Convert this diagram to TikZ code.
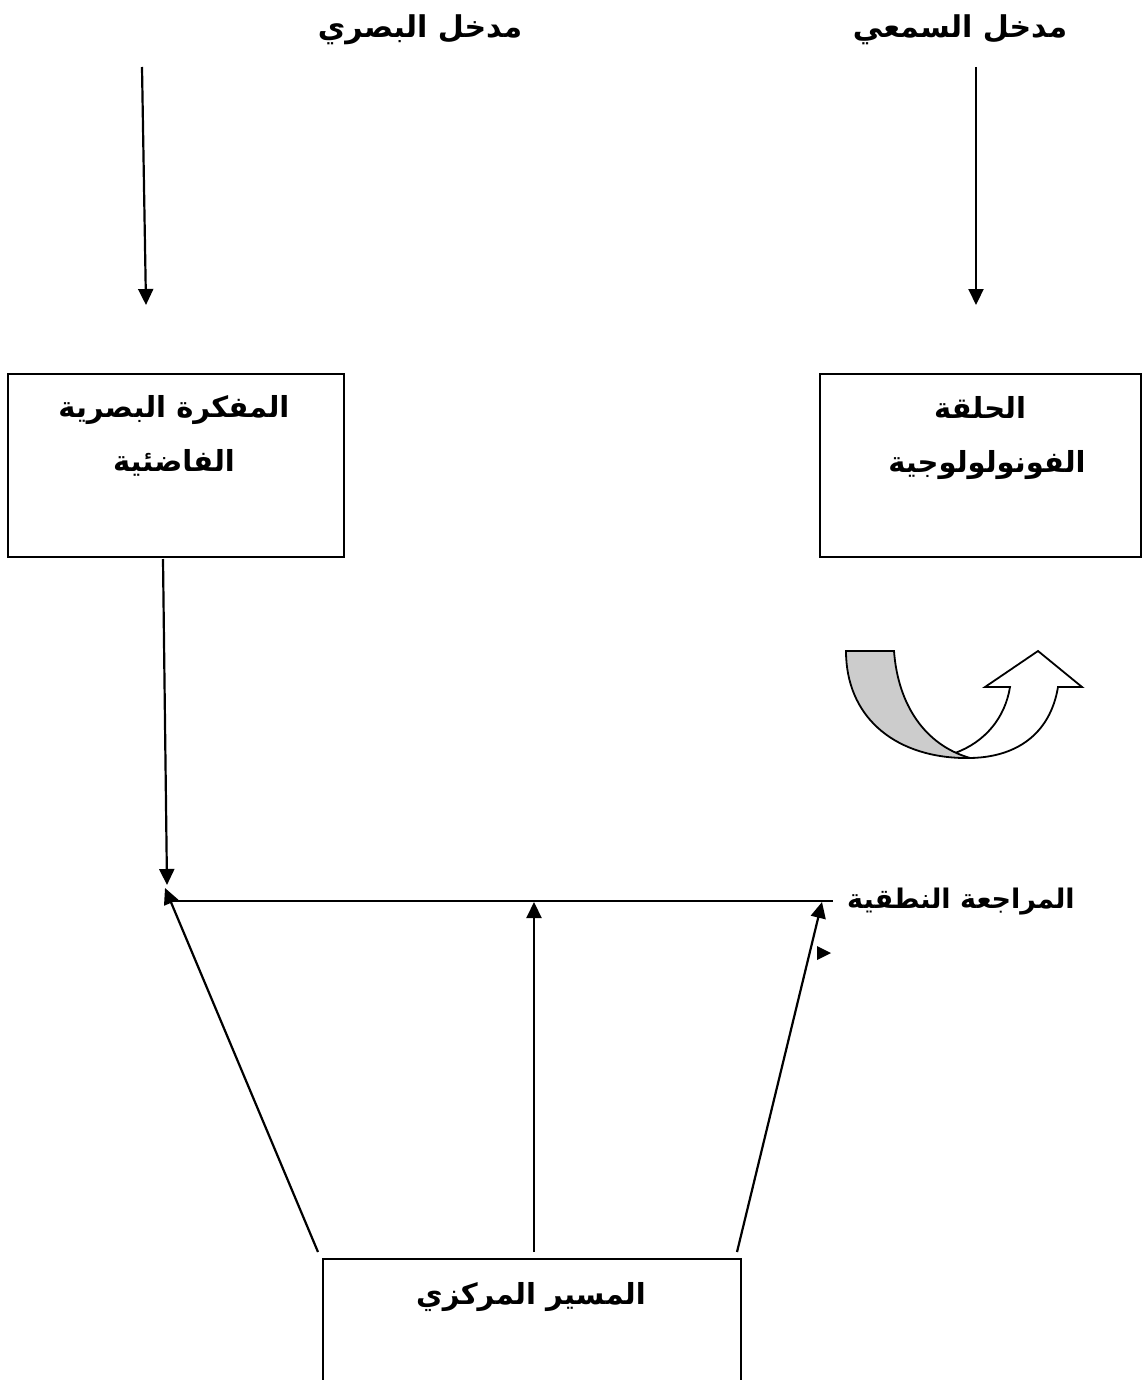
\documentclass[tikz,border=0pt]{standalone}
\usepackage{fontspec}
\usetikzlibrary{arrows.meta}
\TeXXeTstate=1
\newfontfamily\arabicfont[Script=Arabic]{DejaVu Sans}
\begin{document}
\begin{tikzpicture}[x=0.5pt,y=-0.5pt,
  lbl/.style={font=\arabicfont\bfseries\fontsize{15}{19}\selectfont, inner sep=0pt},
  boxlbl/.style={font=\arabicfont\bfseries\fontsize{14.5}{18}\selectfont, inner sep=0pt},
  boxed/.style={draw, line width=1.1pt, inner sep=0pt},
  ln/.style={line width=1.1pt},
  arr/.style={line width=1.1pt, -{Triangle[length=8pt,width=7.5pt]}}]
\useasboundingbox (0,0) rectangle (1146,1380);
\fill[white] (0,0) rectangle (1146,1380);
% top labels
\node[lbl] (vin) at (420,30) {\beginR مدخل البصري\endR};
\node[lbl] (ain) at (960,30) {\beginR مدخل السمعي\endR};
% boxes
\node[boxed, minimum width=168pt, minimum height=91.5pt] (vs) at (176,465.5) {};
\node[boxlbl] (vs1) at (174,410) {\beginR المفكرة البصرية\endR};
\node[boxlbl] (vs2) at (174,463) {\beginR الفاضئية\endR};
\node[boxed, minimum width=160.5pt, minimum height=91.5pt] (pl) at (980.5,465.5) {};
\node[boxlbl] (pl1) at (980,407) {\beginR الحلقة\endR};
\node[boxlbl] (pl2) at (987,465) {\beginR الفونولولوجية\endR};
% central executive (open at the bottom edge)
\coordinate (cpbl) at (323,1382);
\coordinate (cpbr) at (741,1382);
\draw[ln] (cpbl) |- (741,1259) -- (cpbr);
\node[boxlbl] (cp) at (531,1297) {\beginR المسير المركزي\endR};
% articulatory rehearsal
\node[lbl, font=\arabicfont\bfseries\fontsize{13.5}{17}\selectfont] (ar) at (961,902) {\beginR المراجعة النطقية\endR};
% coordinates
\coordinate (vt) at (142,67);
\coordinate (vb) at (146,305);
\coordinate (at) at (976,67);
\coordinate (ab) at (976,305);
\coordinate (vsb) at (163,559);
\coordinate (j) at (167,885);
\coordinate (hl) at (168,901);
\coordinate (hr) at (833,901);
\coordinate (dl) at (318,1252);
\coordinate (dlt) at (165,888);
\coordinate (m) at (534,1252);
\coordinate (mt) at (534,902);
\coordinate (dr) at (737,1252);
\coordinate (drt) at (822,902);
% arrows
\draw[arr] (vt) -- (vb);
\draw[arr] (at) -- (ab);
\draw[arr] (vsb) -- (j);
\draw[ln] (hl) -- (hr);
\draw[arr] (dl) -- (dlt);
\draw[arr] (m) -- (mt);
\draw[arr] (dr) -- (drt);
\fill (817,946) -- (817,960) -- (831,953) -- cycle;
% u-turn arrow
\draw[line width=0.9pt, fill=white, line join=miter]
  (955,753) .. controls (985,742) and (1005,718) .. (1010,687)
  -- (985,687) -- (1038,651) -- (1082,687) -- (1058,687)
  .. controls (1050,735) and (1015,758) .. (968,758) -- cycle;
\draw[line width=0.9pt, fill=black!20, line join=miter]
  (846,651) -- (894,651)
  .. controls (898,705) and (925,745) .. (970,758)
  -- (962,758)
  .. controls (892,756) and (846,715) .. cycle;
\end{tikzpicture}
\end{document}
